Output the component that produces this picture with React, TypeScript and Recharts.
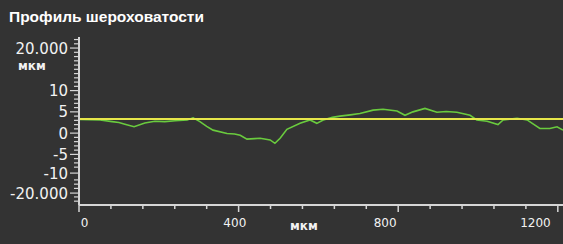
import { LineChart, Line, XAxis, YAxis, ReferenceLine } from "recharts";

// profile samples (position in мкм, height in мкм)
const positions = [
  0, 53, 83, 100, 115, 138, 165, 190, 215, 241, 271, 286, 303, 320, 336, 371, 390, 404, 421, 440,
  454, 479, 491, 504, 521, 554, 579, 596, 612, 635, 654, 680, 704, 737, 762, 797, 817, 837, 867,
  897, 920, 947, 980, 997, 1023, 1050, 1063, 1098, 1123, 1155, 1180, 1198, 1213,
];
const heights = [
  3.2, 3.1, 2.7, 2.5, 2.1, 1.5, 2.4, 2.8, 2.7, 2.9, 3.1, 3.6, 2.7, 1.6, 0.7, -0.1, -0.2, -0.5,
  -1.4, -1.3, -1.2, -1.6, -2.4, -1.2, 0.9, 2.3, 3.1, 2.3, 3.1, 3.7, 4.0, 4.3, 4.6, 5.4, 5.6, 5.2,
  4.2, 5.0, 5.8, 4.9, 5.1, 4.9, 4.2, 3.1, 2.8, 2.0, 3.1, 3.5, 3.1, 1.1, 1.1, 1.5, 0.7,
];
const meanLine = 3.3;

const xLabelTicks = [0, 400, 800, 1200];
const xMinorStep = 80;
const yMajorTicks = [20, 10, 5, 0, -5, -9.4, -14.1];
const yTickLabels = ["20.000", "10", "5", "0", "-5", "-10", "-20.000"];

const data = positions.map((x, i) => ({ x, h: heights[i] }));

const xTicks: number[] = [];
for (let v = 0; v <= 1200; v += xMinorStep) xTicks.push(v);

const yTicks: number[] = [...yMajorTicks];
for (let v = -16; v <= 22; v++) {
  if (yMajorTicks.every((m) => Math.abs(m - v) > 0.6)) yTicks.push(v);
}

const AXIS = "#d6d6d6";
const TEXT = "#f2f2f2";
const FONT = "'DejaVu Sans', Verdana, sans-serif";

function XTick(props: any) {
  const { x, y, payload } = props;
  const v = payload.value;
  const major = xLabelTicks.includes(v);
  return (
    <g>
      <line x1={x} x2={x} y1={y} y2={y + (major ? 7 : 4)} stroke={AXIS} strokeWidth={1.5} />
      {major && (
        <text
          x={x + 5.5 - v * 0.0232}
          y={y + 22}
          textAnchor="middle"
          fill={TEXT}
          fontSize={12}
          fontFamily={FONT}
        >
          {v}
        </text>
      )}
    </g>
  );
}

function YTick(props: any) {
  const { x, y, payload } = props;
  const idx = yMajorTicks.indexOf(payload.value);
  const major = idx >= 0;
  return (
    <g>
      <line x1={x - (major ? 9 : 5)} x2={x} y1={y} y2={y} stroke={AXIS} strokeWidth={1.2} />
      {major && (
        <text x={x - 11} y={y + 5.5} textAnchor="end" fill={TEXT} fontSize={15} fontFamily={FONT}>
          {yTickLabels[idx]}
        </text>
      )}
    </g>
  );
}

export default function App() {
  return (
    <div
      style={{
        position: "fixed",
        left: 0,
        top: 0,
        width: 563,
        height: 244,
        background: "#333333",
        overflow: "hidden",
      }}
    >
      <div
        style={{
          position: "absolute",
          left: 9,
          top: 8,
          color: "#ffffff",
          fontFamily: "'Liberation Sans', Arial, sans-serif",
          fontWeight: "bold",
          fontSize: 15.5,
        }}
      >
        Профиль шероховатости
      </div>
      <div
        style={{
          position: "absolute",
          left: 18,
          top: 59,
          color: TEXT,
          fontFamily: FONT,
          fontWeight: "bold",
          fontSize: 12,
        }}
      >
        мкм
      </div>
      <div
        style={{
          position: "absolute",
          left: 290,
          top: 219,
          color: TEXT,
          fontFamily: FONT,
          fontWeight: "bold",
          fontSize: 12,
        }}
      >
        мкм
      </div>
      <LineChart
        width={563}
        height={244}
        data={data}
        margin={{ top: 37, right: 0, bottom: 0, left: 0 }}
        style={{ position: "absolute", left: 0, top: 0 }}
      >
        <XAxis
          dataKey="x"
          type="number"
          domain={[0, 1213]}
          ticks={xTicks}
          interval={0}
          allowDataOverflow
          height={39}
          tickSize={0}
          tickMargin={0}
          tickLine={false}
          axisLine={{ stroke: AXIS, strokeWidth: 2 }}
          tick={(p: any) => <XTick {...p} />}
        />
        <YAxis
          type="number"
          domain={[-16.9, 22.6]}
          ticks={yTicks}
          interval={0}
          allowDataOverflow
          width={79}
          tickSize={0}
          tickMargin={0}
          tickLine={false}
          axisLine={{ stroke: AXIS, strokeWidth: 2 }}
          tick={(p: any) => <YTick {...p} />}
        />
        <Line
          dataKey="h"
          type="linear"
          stroke="#6acb3e"
          strokeWidth={1.6}
          dot={false}
          isAnimationActive={false}
        />
        <ReferenceLine y={meanLine} stroke="#e6e64a" strokeWidth={2} ifOverflow="extendDomain" />
      </LineChart>
    </div>
  );
}
